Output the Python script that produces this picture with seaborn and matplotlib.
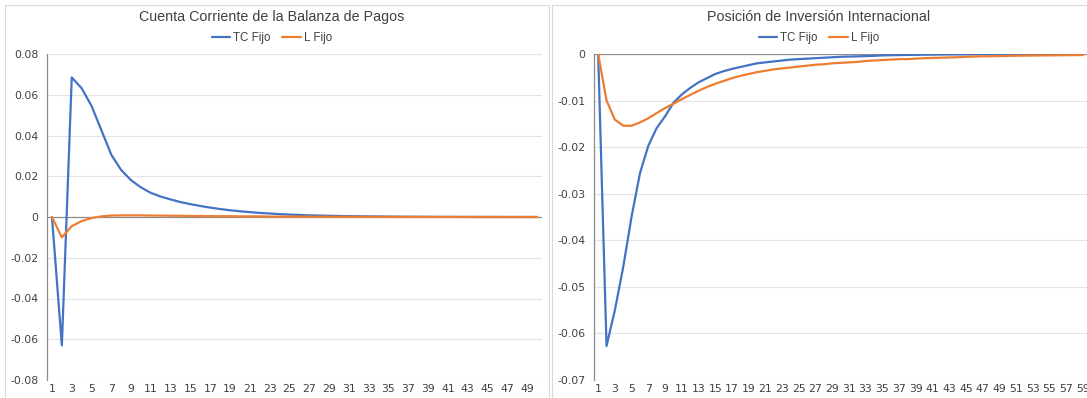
import numpy as np
import pandas as pd
import matplotlib
matplotlib.use("Agg")
import matplotlib.pyplot as plt
from matplotlib.patches import Rectangle
import seaborn as sns

# ---------------- data ----------------
series_names = ["TC Fijo", "L Fijo"]

cc_tc = [0.0, -0.0630, 0.0685, 0.0632, 0.0545, 0.0425, 0.0305, 0.0230, 0.0180, 0.0145,
         0.0118, 0.0100, 0.0086, 0.0073, 0.0063, 0.0054, 0.0046, 0.0039, 0.0033, 0.0028,
         0.0024, 0.0020, 0.0017, 0.0014, 0.0012, 0.0010, 0.0008, 0.0007, 0.0006, 0.0005,
         0.0004, 0.00035, 0.0003, 0.00025, 0.0002, 0.00016, 0.00013, 0.0001, 0.00008, 0.00006,
         0.00005, 0.00004, 0.00003, 0.00003, 0.00002, 0.00002, 0.00001, 0.00001, 0.00001, 0.00001]
cc_l = [0.0, -0.0100, -0.0045, -0.0020, -0.0005, 0.0003, 0.0007, 0.0008, 0.0008, 0.0008,
        0.0007, 0.0007, 0.0006, 0.0006, 0.0005, 0.0005, 0.0004, 0.0004, 0.0004, 0.0003,
        0.0003, 0.0003, 0.0002, 0.0002, 0.0002, 0.0002, 0.00015, 0.00015, 0.00012, 0.0001,
        0.0001, 0.00008, 0.00007, 0.00006, 0.00005, 0.00004, 0.00004, 0.00003, 0.00003, 0.00002,
        0.00002, 0.00002, 0.00001, 0.00001, 0.00001, 0.00001, 0.0, 0.0, 0.0, 0.0]

pii_tc = [0.0, -0.0627, -0.0550, -0.0457, -0.0349, -0.0256, -0.0197, -0.0159, -0.0134, -0.0105,
          -0.0087, -0.0073, -0.0061, -0.0052, -0.0043, -0.0037, -0.0032, -0.0028, -0.0024, -0.0020,
          -0.0018, -0.0016, -0.0014, -0.0012, -0.0011, -0.0010, -0.0009, -0.0008, -0.0007, -0.0006,
          -0.00055, -0.0005, -0.00045, -0.0004, -0.0003, -0.00027, -0.00024, -0.0002, -0.00018, -0.00015,
          -0.00013, -0.00011, -0.0001, -0.00009, -0.00008, -0.00007, -0.00006, -0.00005, -0.00004, -0.00004,
          -0.00003, -0.00003, -0.00003, -0.00003, -0.00003, -0.00002, -0.00002, -0.00002, -0.00002]
pii_l = [0.0, -0.0100, -0.0141, -0.0154, -0.0154, -0.0147, -0.0138, -0.0127, -0.0116, -0.0107,
         -0.0097, -0.0088, -0.0079, -0.0071, -0.0064, -0.0058, -0.0052, -0.0047, -0.0043, -0.0039,
         -0.0036, -0.0033, -0.0031, -0.0029, -0.0027, -0.0025, -0.0023, -0.0022, -0.0020, -0.0019,
         -0.0018, -0.0017, -0.0015, -0.0014, -0.0013, -0.0012, -0.0011, -0.0011, -0.0010, -0.0009,
         -0.00085, -0.0008, -0.00075, -0.0007, -0.0006, -0.00055, -0.0005, -0.00047, -0.00044, -0.0004,
         -0.00037, -0.00035, -0.00033, -0.0003, -0.0003, -0.00028, -0.00026, -0.00024, -0.00022]

left_title = "Cuenta Corriente de la Balanza de Pagos"
right_title = "Posición de Inversión Internacional"
left_yticks = [-0.08, -0.06, -0.04, -0.02, 0, 0.02, 0.04, 0.06, 0.08]
left_yticklabels = ["-0.08", "-0.06", "-0.04", "-0.02", "0", "0.02", "0.04", "0.06", "0.08"]
right_yticks = [-0.07, -0.06, -0.05, -0.04, -0.03, -0.02, -0.01, 0]
right_yticklabels = ["-0.07", "-0.06", "-0.05", "-0.04", "-0.03", "-0.02", "-0.01", "0"]

colors = {"TC Fijo": "#4472C4", "L Fijo": "#ED7D31"}

def long_df(tc, l):
    n = len(tc)
    return pd.DataFrame({
        "periodo": list(range(1, n + 1)) * 2,
        "valor": list(tc) + list(l),
        "serie": [series_names[0]] * n + [series_names[1]] * n,
    })

df_left = long_df(cc_tc, cc_l)
df_right = long_df(pii_tc, pii_l)

sns.set_theme(style="white")
plt.rcParams["font.family"] = ["Liberation Sans", "DejaVu Sans"]

W, H = 1087, 398
fig = plt.figure(figsize=(W / 100, H / 100), dpi=100)

# panel borders
fig.add_artist(Rectangle((5 / W, -0.1), (549 - 5) / W, 1.1 - 5 / H,
                         transform=fig.transFigure, fill=False, edgecolor="#D9D9D9", lw=0.8))
fig.add_artist(Rectangle((552 / W, -0.1), (1100 - 552) / W, 1.1 - 5 / H,
                         transform=fig.transFigure, fill=False, edgecolor="#D9D9D9", lw=0.8))

axL = fig.add_axes([47 / W, 1 - 380 / H, (542 - 47) / W, (380 - 54) / H])
axR = fig.add_axes([594 / W, 1 - 380 / H, (1087 - 594) / W, (380 - 54) / H])

tick_color = "#404040"
grid_color = "#E3E3E3"
axis_color = "#8C8C8C"

def style(ax, df, n, yticks, ylabels, ylim, title, title_x):
    sns.lineplot(data=df, x="periodo", y="valor", hue="serie", palette=colors,
                 linewidth=1.6, ax=ax, legend=False)
    ax.set_xlim(0.5, n + 0.5)
    ax.set_ylim(*ylim)
    ax.set_yticks(yticks)
    ax.set_yticklabels(ylabels, family="DejaVu Sans")
    xt = list(range(1, n + 1, 2))
    ax.set_xticks(xt)
    ax.set_xticklabels([str(v) for v in xt], family="DejaVu Sans")
    ax.tick_params(axis="y", length=0, labelsize=7.8, colors=tick_color, pad=6)
    ax.tick_params(axis="x", length=0, labelsize=7.8, colors=tick_color, pad=3)
    ax.set_xlabel("")
    ax.set_ylabel("")
    for s in ["top", "right", "bottom"]:
        ax.spines[s].set_visible(False)
    ax.spines["left"].set_color(axis_color)
    ax.spines["left"].set_linewidth(0.9)
    for yv in yticks:
        if yv != 0:
            ax.axhline(yv, color=grid_color, lw=0.8, zorder=0)
    ax.axhline(0, color=axis_color, lw=0.9, zorder=1)
    fig.text(title_x, 1 - 17 / H, title, ha="center", va="center",
             fontsize=10.3, color="#404040")
    handles = [plt.Line2D([], [], color=colors[s], lw=1.6) for s in series_names]
    fig.legend(handles, series_names, loc="center", bbox_to_anchor=(title_x, 1 - 38 / H),
               ncol=2, frameon=False, fontsize=8.3, handlelength=1.6, handletextpad=0.3,
               columnspacing=1.0, labelcolor="#404040")

style(axL, df_left, len(cc_tc), left_yticks, left_yticklabels, (-0.08, 0.08),
      left_title, 272 / W)
style(axR, df_right, len(pii_tc), right_yticks, right_yticklabels, (-0.07, 0.0),
      right_title, 819 / W)

fig.savefig("out.png", dpi=100)
